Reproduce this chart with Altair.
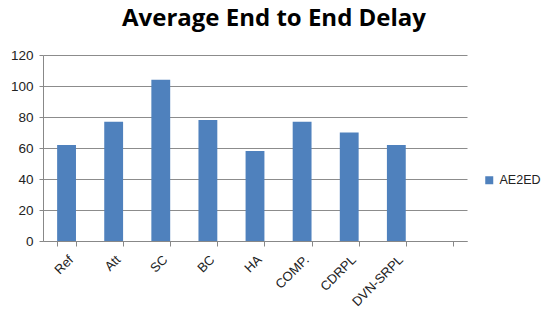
import altair as alt
import pandas as pd

categories = ["Ref", "Att", "SC", "BC", "HA", "COMP.", "CDRPL", "DVN-SRPL"]
values = [62, 77, 104, 78, 58, 77, 70, 62]
series_name = "AE2ED"
y_ticks = [0, 20, 40, 60, 80, 100, 120]

df = pd.DataFrame({"cat": categories, "val": values, "series": [series_name] * len(categories)})
domain = categories + [" "]

font = "Liberation Sans"

chart = alt.Chart(df).mark_bar(color="#4F81BD").encode(
    x=alt.X("cat:N", sort=domain,
            scale=alt.Scale(domain=domain, paddingInner=0.6, paddingOuter=0.3),
            axis=alt.Axis(title=None, labelAngle=-45, tickBand="extent", grid=False,
                          domainColor="#888888", tickColor="#888888", tickSize=5,
                          labelFont=font, labelFontSize=13, labelColor="#222222",
                          labelPadding=7)),
    y=alt.Y("val:Q", scale=alt.Scale(domain=[0, 120]),
            axis=alt.Axis(title=None, values=y_ticks, grid=True, gridColor="#8c8c8c",
                          domainColor="#888888", tickColor="#888888", tickSize=4,
                          labelFont=font, labelFontSize=13.5, labelColor="#222222",
                          labelPadding=6)),
    color=alt.Color("series:N", scale=alt.Scale(range=["#4F81BD"]),
                    legend=alt.Legend(title=None, orient="none", legendX=440, legendY=119,
                                      symbolType="square", symbolSize=64, labelOffset=4,
                                      labelFont=font, labelFontSize=12.5, labelColor="#222222")),
).properties(
    width=424, height=186,
    title=alt.TitleParams("Average End to End Delay", font="Open Sans", fontSize=24,
                          fontWeight="bold", color="#000000", anchor="middle",
                          offset=17, dx=19),
    autosize=alt.AutoSizeParams(type="none"),
    padding={"left": 35, "top": 47, "right": 75, "bottom": 68},
).configure_view(stroke=None)

chart.save("out.html", embed_options={"renderer": "svg", "actions": False})
